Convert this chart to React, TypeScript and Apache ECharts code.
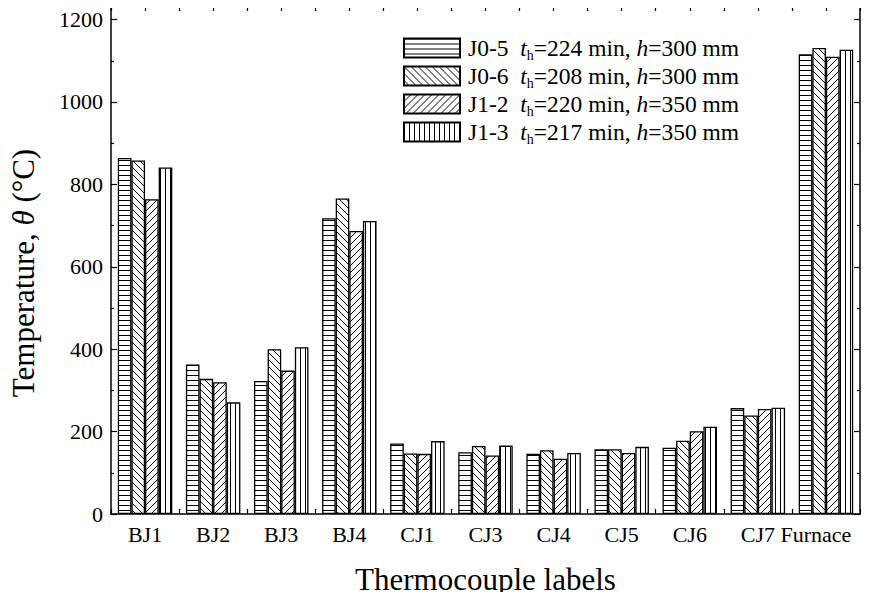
import React, { useEffect, useRef } from 'react';
import * as echarts from 'echarts';

const categories = ['BJ1', 'BJ2', 'BJ3', 'BJ4', 'CJ1', 'CJ3', 'CJ4', 'CJ5', 'CJ6', 'CJ7', 'Furnace'];
const seriesNames = ['J0-5', 'J0-6', 'J1-2', 'J1-3'];
const heatingTimes = ['224', '208', '220', '217'];
const heights = ['300', '300', '350', '350'];
const j05 = [864, 363, 323, 718, 171, 150, 146, 157, 161, 257, 1116];
const j06 = [858, 328, 400, 766, 147, 165, 155, 157, 178, 239, 1131];
const j12 = [764, 320, 348, 687, 146, 142, 134, 148, 201, 255, 1110];
const j13 = [841, 271, 405, 711, 177, 166, 148, 163, 212, 258, 1127];
const seriesData = [j05, j06, j12, j13];
const patterns = ['h', 'd1', 'd2', 'v'];

const FONT = "'Liberation Serif', 'Times New Roman', Times, serif";

function makePattern(kind: string) {
  let w = 6;
  let h = 6;
  if (kind === 'h') { w = 6; h = 5; }
  if (kind === 'v') { w = 5; h = 6; }
  if (kind === 'd1' || kind === 'd2') { w = 7; h = 7; }
  const c = document.createElement('canvas');
  c.width = w;
  c.height = h;
  const ctx = c.getContext('2d')!;
  ctx.fillStyle = '#fff';
  ctx.fillRect(0, 0, w, h);
  ctx.strokeStyle = '#000';
  ctx.lineWidth = 1;
  ctx.beginPath();
  if (kind === 'h') {
    ctx.moveTo(0, 0.5);
    ctx.lineTo(w, 0.5);
  } else if (kind === 'v') {
    ctx.moveTo(0.5, 0);
    ctx.lineTo(0.5, h);
  } else if (kind === 'd1') {
    for (let k = -1; k <= 1; k++) {
      ctx.moveTo(k * w - 1, -1);
      ctx.lineTo(k * w + w + 1, h + 1);
    }
  } else {
    for (let k = -1; k <= 1; k++) {
      ctx.moveTo(k * w - 1, h + 1);
      ctx.lineTo(k * w + w + 1, -1);
    }
  }
  ctx.stroke();
  return { image: c.toDataURL(), imageWidth: w, imageHeight: h, repeat: 'repeat' };
}

export default function App() {
  const ref = useRef<HTMLDivElement>(null);
  useEffect(() => {
    if (!ref.current) return;
    const chart = echarts.init(ref.current, null, { renderer: 'svg' });
    const axisLine = { show: true, lineStyle: { color: '#000', width: 1.5 } };
    const tickStyle = { color: '#000', width: 1.2 };
    const richBase = { fontFamily: FONT, fontSize: 23.5, color: '#000' };
    const legendRich = {
      n: { ...richBase },
      i: { ...richBase, fontStyle: 'italic' },
      s: { fontFamily: FONT, fontSize: 14, color: '#000', padding: [14, 0, 0, 0] },
    };
    const option: any = {
      animation: false,
      backgroundColor: '#fff',
      textStyle: { fontFamily: FONT },
      grid: { left: 109, right: 10, top: 6, bottom: 77, containLabel: false },
      legend: {
        orient: 'vertical',
        left: 403,
        top: 36,
        padding: 0,
        itemWidth: 56,
        itemHeight: 19,
        itemGap: 2,
        icon: 'rect',
        data: seriesNames,
        textStyle: { ...richBase, padding: [0, 0, 0, 3], rich: legendRich },
        formatter: (name: string) => {
          const idx = seriesNames.indexOf(name);
          return `{n|${name}  }{i|t}{s|h}{n|=${heatingTimes[idx]} min, }{i|h}{n|=${heights[idx]} mm}`;
        },
      },
      xAxis: [
        {
          type: 'category', position: 'bottom', data: categories,
          axisLine, axisTick: { show: true, inside: true, length: 5, lineStyle: tickStyle },
          axisLabel: {
            fontFamily: FONT, fontSize: 22, color: '#000', margin: 9, interval: 0,
            formatter: (v: string) => (v === 'Furnace' ? `{f|${v}}` : v),
            rich: { f: { fontFamily: FONT, fontSize: 22, color: '#000', padding: [0, 20, 0, 0] } },
          },
          name: 'Thermocouple labels', nameLocation: 'middle', nameGap: 50,
          nameTextStyle: { fontFamily: FONT, fontSize: 31, color: '#000' },
          splitLine: { show: false },
        },
        {
          type: 'category', position: 'bottom', data: categories,
          axisLine: { show: false },
          axisTick: { show: true, inside: true, length: 5, alignWithLabel: true, lineStyle: tickStyle },
          axisLabel: { show: false }, splitLine: { show: false },
        },
        {
          type: 'category', position: 'top', data: categories,
          axisLine, axisTick: { show: true, inside: true, length: 5, lineStyle: tickStyle },
          axisLabel: { show: false }, splitLine: { show: false },
        },
        {
          type: 'category', position: 'top', data: categories,
          axisLine: { show: false },
          axisTick: { show: true, inside: true, length: 5, alignWithLabel: true, lineStyle: tickStyle },
          axisLabel: { show: false }, splitLine: { show: false },
        },
      ],
      yAxis: [
        {
          type: 'value', position: 'left', min: 0, max: 1233, interval: 200,
          axisLine,
          axisTick: { show: true, inside: true, length: 6, lineStyle: tickStyle },
          minorTick: { show: true, splitNumber: 2, length: 3, lineStyle: tickStyle },
          splitLine: { show: false }, minorSplitLine: { show: false },
          axisLabel: {
            fontFamily: FONT, fontSize: 22, color: '#000', margin: 8, showMaxLabel: false,
            formatter: (v: number) => (v % 200 === 0 ? String(v) : ''),
          },
          name: '{a|Temperature, }{b|θ}{a| (°C)}', nameLocation: 'middle', nameGap: 72,
          nameTextStyle: {
            padding: [0, 26, 0, 0],
            rich: {
              a: { fontFamily: FONT, fontSize: 31, color: '#000' },
              b: { fontFamily: FONT, fontSize: 31, color: '#000', fontStyle: 'italic' },
            },
          },
        },
        {
          type: 'value', position: 'right', min: 0, max: 1233, interval: 200,
          axisLine,
          axisTick: { show: true, inside: true, length: 6, lineStyle: tickStyle },
          minorTick: { show: true, splitNumber: 2, length: 3, lineStyle: tickStyle },
          splitLine: { show: false }, minorSplitLine: { show: false },
          axisLabel: { show: false },
        },
      ],
      series: seriesNames.map((name, i) => ({
        name,
        type: 'bar',
        xAxisIndex: 0,
        yAxisIndex: 0,
        data: seriesData[i],
        barGap: '0%',
        barCategoryGap: '20%',
        itemStyle: { color: makePattern(patterns[i]), borderColor: '#000', borderWidth: 1.3 },
        emphasis: { disabled: true },
      })),
    };
    chart.setOption(option);
    return () => chart.dispose();
  }, []);
  return <div ref={ref} style={{ width: 870, height: 600, margin: -8 }} />;
}
